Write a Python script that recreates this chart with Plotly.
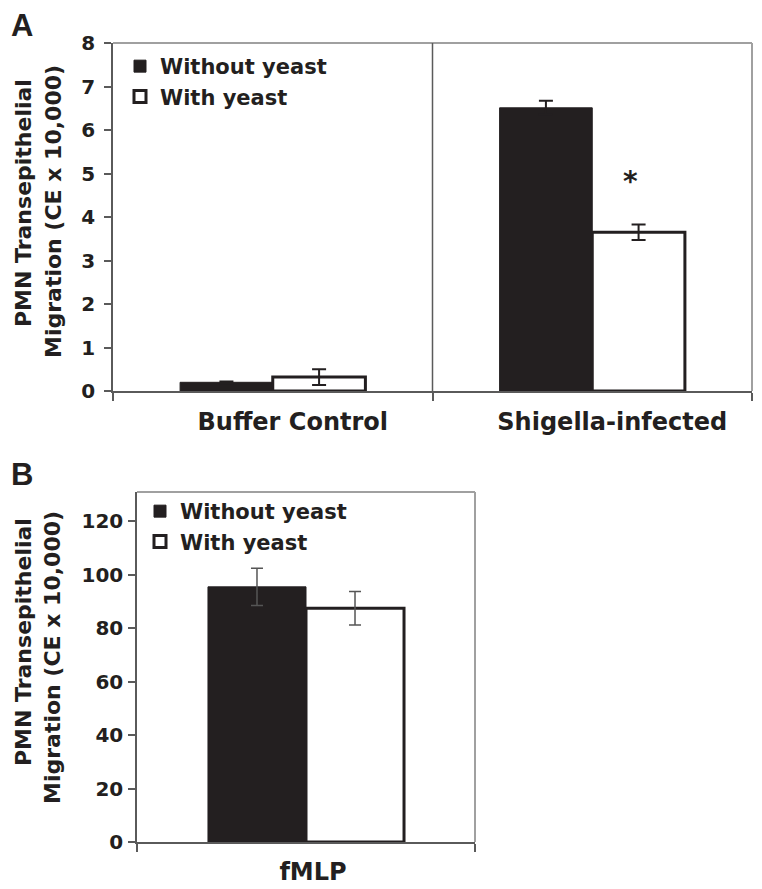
import plotly.graph_objects as go

# ---- data ----
series_names = ["Without yeast", "With yeast"]

cats_a = ["Buffer Control", "Shigella-infected"]
a_without = [0.20, 6.51]
a_without_err = [0.02, 0.16]
a_with = [0.32, 3.65]
a_with_err = [0.18, 0.18]

cats_b = ["fMLP"]
b_without = [95.5]
b_without_err = [7.0]
b_with = [87.5]
b_with_err = [6.3]

a_yticks = [0, 1, 2, 3, 4, 5, 6, 7, 8]
b_yticks = [0, 20, 40, 60, 80, 100, 120]

# significance marker position (category index offset, value)
star_pos = (1.12, 4.82)

# page body has an 8px margin, so the figure is offset by it
OFF = 8
W, H = 762 - 2 * OFF, 889 - OFF
DARK = "#231f20"
AXIS = "#5a5a5a"
FRAME = "#a0a0a0"
FONT = "DejaVu Sans"

def px(x):
    return (x - OFF) / W

def py(y):
    return 1 - (y - OFF) / H

fig = go.Figure()

fig.add_trace(go.Bar(
    x=cats_a, y=a_without, name=series_names[0],
    marker=dict(color=DARK, line=dict(color=DARK, width=1)),
    error_y=dict(type="data", array=a_without_err, visible=True,
                 color=DARK, thickness=2, width=7),
    xaxis="x", yaxis="y", legend="legend"))
fig.add_trace(go.Bar(
    x=cats_a, y=a_with, name=series_names[1],
    marker=dict(color="white", line=dict(color=DARK, width=3)),
    error_y=dict(type="data", array=a_with_err, visible=True,
                 color=DARK, thickness=2, width=7),
    xaxis="x", yaxis="y", legend="legend"))

fig.add_trace(go.Bar(
    x=cats_b, y=b_without, name=series_names[0],
    marker=dict(color=DARK, line=dict(color=DARK, width=1)),
    error_y=dict(type="data", array=b_without_err, visible=True,
                 color="#555555", thickness=1.5, width=6),
    xaxis="x2", yaxis="y2", legend="legend2"))
fig.add_trace(go.Bar(
    x=cats_b, y=b_with, name=series_names[1],
    marker=dict(color="white", line=dict(color=DARK, width=3)),
    error_y=dict(type="data", array=b_with_err, visible=True,
                 color="#555555", thickness=1.5, width=6),
    xaxis="x2", yaxis="y2", legend="legend2"))

tickfont = dict(family=FONT, size=20, color=DARK, weight="bold")
catfont = dict(family=FONT, size=24, color=DARK, weight="bold")
legfont = dict(family=FONT, size=21, color=DARK, weight="bold")

common_x = dict(type="category", showline=True, linecolor=AXIS, linewidth=1.5,
                ticks="outside", tickson="boundaries", ticklen=8,
                tickcolor=AXIS, tickwidth=1.5, showgrid=False,
                tickfont=catfont, fixedrange=True, automargin=False)
common_y = dict(showline=True, linecolor=AXIS, linewidth=1.5,
                ticks="outside", ticklen=7, tickcolor=AXIS, tickwidth=1.5,
                showgrid=False, zeroline=False, tickfont=tickfont,
                fixedrange=True, automargin=False)

fig.update_layout(
    template="none",
    width=W, height=H, autosize=False,
    margin=dict(l=0, r=0, t=0, b=0, pad=0),
    paper_bgcolor="white", plot_bgcolor="white",
    barmode="group", bargap=0.42, bargroupgap=0,
    showlegend=True,
    xaxis=dict(common_x, domain=[px(113), px(752)], anchor="y",
               ticklabelshift=20, ticklabelstandoff=8),
    yaxis=dict(common_y, domain=[py(391), py(43)], anchor="x",
               range=[0, 8], tickvals=a_yticks, ticklabelstandoff=5),
    xaxis2=dict(common_x, domain=[px(137), px(475)], anchor="y2",
                ticklabelshift=7, ticklabelstandoff=7),
    yaxis2=dict(common_y, domain=[py(842), py(492)], anchor="x2",
                range=[0, 131], tickvals=b_yticks, ticklabelstandoff=1),
    legend=dict(x=px(120), y=py(46), xanchor="left", yanchor="top",
                font=legfont, bgcolor="rgba(0,0,0,0)", borderwidth=0,
                tracegroupgap=0),
    legend2=dict(x=px(140), y=py(491), xanchor="left", yanchor="top",
                 font=legfont, bgcolor="rgba(0,0,0,0)", borderwidth=0,
                 tracegroupgap=0),
)

shapes = []
# frame (top and right) for both panels
for xr, yr in (("x", "y"), ("x2", "y2")):
    shapes.append(dict(type="line", xref=xr + " domain", yref=yr + " domain",
                       x0=0, x1=1, y0=1, y1=1,
                       line=dict(color=FRAME, width=2), layer="below"))
    shapes.append(dict(type="line", xref=xr + " domain", yref=yr + " domain",
                       x0=1, x1=1, y0=0, y1=1,
                       line=dict(color=FRAME, width=2), layer="below"))
# separator between categories in panel A
shapes.append(dict(type="line", xref="x", yref="y domain",
                   x0=0.5, x1=0.5, y0=0, y1=1,
                   line=dict(color=AXIS, width=1.5), layer="below"))
fig.update_layout(shapes=shapes)

title_font = dict(family=FONT, size=22, color=DARK, weight="bold")
annotations = [
    dict(text="A", x=px(22), y=py(25), xref="paper", yref="paper",
         showarrow=False, xanchor="center", yanchor="middle",
         font=dict(family="Liberation Sans", size=31, color=DARK, weight="bold")),
    dict(text="B", x=px(22), y=py(475), xref="paper", yref="paper",
         showarrow=False, xanchor="center", yanchor="middle",
         font=dict(family="Liberation Sans", size=31, color=DARK, weight="bold")),
    dict(text="PMN Transepithelial", x=px(24), y=py(203), xref="paper", yref="paper",
         showarrow=False, textangle=-90, xanchor="center", yanchor="middle",
         font=title_font),
    dict(text="Migration (CE x 10,000)", x=px(53), y=py(212), xref="paper", yref="paper",
         showarrow=False, textangle=-90, xanchor="center", yanchor="middle",
         font=title_font),
    dict(text="PMN Transepithelial", x=px(23), y=py(642), xref="paper", yref="paper",
         showarrow=False, textangle=-90, xanchor="center", yanchor="middle",
         font=title_font),
    dict(text="Migration (CE x 10,000)", x=px(52), y=py(658), xref="paper", yref="paper",
         showarrow=False, textangle=-90, xanchor="center", yanchor="middle",
         font=title_font),
    dict(text="*", x=star_pos[0], y=star_pos[1], xref="x", yref="y",
         showarrow=False, xanchor="center", yanchor="middle",
         font=dict(family=FONT, size=28, color=DARK, weight="bold")),
]
fig.update_layout(annotations=annotations)

fig.write_html("out.html")
